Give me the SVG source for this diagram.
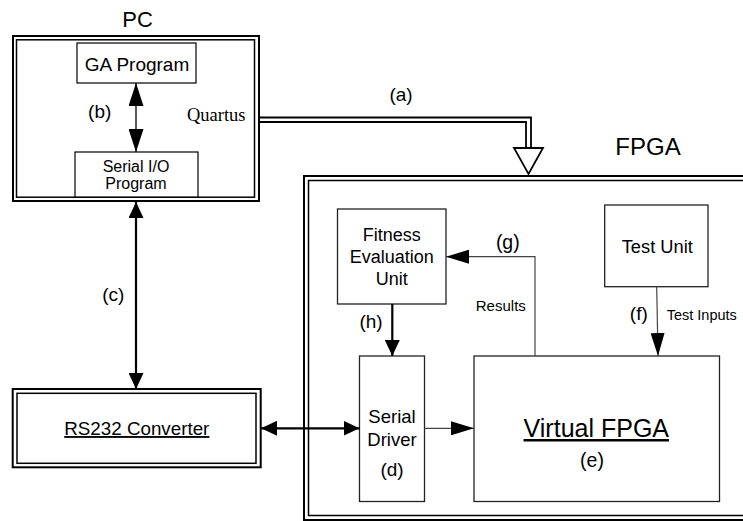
<svg xmlns="http://www.w3.org/2000/svg" width="743" height="521" viewBox="0 0 743 521">
  <style>
    text { font-family: "Liberation Sans", Arial, sans-serif; fill: #000; text-anchor: middle; }
    .serif { font-family: "Liberation Serif", "Times New Roman", serif; }
    .outer { fill: none; stroke: #000; stroke-width: 2; }
    .inner { fill: none; stroke: #000; stroke-width: 1.5; }
    .box { fill: #fff; stroke: #000; stroke-width: 1.2; }
    .unit { fill: #fff; stroke: #222; stroke-width: 1.3; }
    .thick { fill: none; stroke: #000; stroke-width: 2.2; }
    .thin { fill: none; stroke: #444; stroke-width: 1.2; }
    .bus { fill: none; stroke: #000; stroke-width: 1.8; }
    .ul { text-decoration: underline; }
  </style>
  <defs>
    <marker id="headThick" markerUnits="userSpaceOnUse" markerWidth="16" markerHeight="15" refX="16" refY="7.5" orient="auto-start-reverse">
      <path d="M0,0 L16,7.5 L0,15 z" fill="#000"/>
    </marker>
    <marker id="headBig" markerUnits="userSpaceOnUse" markerWidth="23" markerHeight="15" refX="23" refY="7.5" orient="auto-start-reverse">
      <path d="M0,0 L23,7.5 L0,15 z" fill="#000"/>
    </marker>
    <marker id="headThin" markerUnits="userSpaceOnUse" markerWidth="23" markerHeight="14" refX="23" refY="7" orient="auto-start-reverse">
      <path d="M0,0 L23,7 L0,14 z" fill="#000"/>
    </marker>
  </defs>

  <rect width="743" height="521" fill="#fff"/>

  <!-- PC container -->
  <g id="pc">
    <text x="137.5" y="27" font-size="22">PC</text>
    <rect class="outer" x="13" y="36" width="246" height="165"/>
    <rect class="inner" x="16.5" y="39.8" width="238" height="157.4"/>
    <text class="serif" x="187" y="121" font-size="18.5" style="text-anchor:start">Quartus</text>
  </g>

  <g id="ga-program">
    <rect class="box" x="77" y="43" width="119" height="40"/>
    <text x="137" y="70.5" font-size="19">GA Program</text>
  </g>

  <g id="serial-io">
    <rect class="box" x="75" y="152" width="123" height="45"/>
    <text x="136" y="171.5" font-size="16">Serial I/O</text>
    <text x="136" y="189" font-size="16">Program</text>
  </g>

  <!-- FPGA container (runs off the right and bottom edges) -->
  <g id="fpga">
    <text x="648" y="155" font-size="24">FPGA</text>
    <rect class="outer" x="304" y="176" width="460" height="344"/>
    <rect class="inner" x="308.5" y="180.5" width="460" height="335"/>
  </g>

  <g id="fitness-unit">
    <rect class="unit" x="337.5" y="209" width="108.5" height="95"/>
    <text x="391.7" y="241" font-size="18">Fitness</text>
    <text x="391.7" y="263.3" font-size="18">Evaluation</text>
    <text x="391.7" y="285" font-size="18">Unit</text>
  </g>

  <g id="test-unit">
    <rect class="unit" x="604.7" y="205" width="103.3" height="81.7"/>
    <text x="657.3" y="253" font-size="18.3">Test Unit</text>
  </g>

  <g id="serial-driver">
    <rect class="unit" x="359.5" y="356" width="65" height="145.5"/>
    <text x="392" y="423" font-size="18.5">Serial</text>
    <text x="392" y="445.5" font-size="18.5">Driver</text>
    <text x="392" y="476" font-size="19">(d)</text>
  </g>

  <g id="virtual-fpga">
    <rect class="unit" x="474" y="356" width="245.5" height="145.5"/>
    <text class="ul" x="596.3" y="437" font-size="25">Virtual FPGA</text>
    <text x="592" y="467" font-size="19.5">(e)</text>
  </g>

  <g id="rs232">
    <rect class="outer" x="12.7" y="389" width="248" height="78.3"/>
    <rect class="inner" x="17" y="393.3" width="239" height="70"/>
    <text class="ul" x="136.8" y="435" font-size="18.8">RS232 Converter</text>
  </g>

  <!-- Connectors -->
  <g id="connectors">
    <!-- (a) PC to FPGA configuration bus -->
    <polyline class="bus" points="259,117.5 531,117.5 531,148"/>
    <polyline class="bus" points="259,122 526,122 526,148"/>
    <polygon points="514,148 543,148 528.5,174" fill="#fff" stroke="#000" stroke-width="1.8" stroke-linejoin="miter"/>
    <text x="401" y="101" font-size="19">(a)</text>

    <!-- (b) GA program <-> serial I/O -->
    <line x1="136" y1="83" x2="136" y2="152" stroke="#000" stroke-width="1.3" marker-start="url(#headBig)" marker-end="url(#headBig)"/>
    <text x="99.7" y="118" font-size="19">(b)</text>

    <!-- (c) PC <-> RS232 -->
    <line class="thick" x1="136" y1="202" x2="136" y2="389" marker-start="url(#headThick)" marker-end="url(#headThick)"/>
    <text x="113.3" y="301" font-size="19">(c)</text>

    <!-- RS232 <-> serial driver -->
    <line class="thick" x1="261" y1="428.3" x2="359.5" y2="428.3" marker-start="url(#headThick)" marker-end="url(#headThick)"/>

    <!-- (h) fitness -> serial driver -->
    <line class="thick" x1="392.3" y1="304" x2="392.3" y2="356" marker-end="url(#headThick)"/>
    <text x="371" y="328" font-size="19">(h)</text>

    <!-- serial driver -> virtual FPGA -->
    <line class="thin" x1="424.5" y1="428.3" x2="474" y2="428.3" marker-end="url(#headThin)"/>

    <!-- (g) results back to fitness unit -->
    <polyline class="thin" points="535,356 535,256.7 446,256.7" marker-end="url(#headThin)"/>
    <text x="507.8" y="249" font-size="19.5">(g)</text>
    <text x="500.8" y="310.5" font-size="15">Results</text>

    <!-- (f) test inputs -->
    <line class="thin" x1="656.7" y1="286.7" x2="658" y2="356" marker-end="url(#headThin)"/>
    <text x="638.8" y="320" font-size="19">(f)</text>
    <text x="666.7" y="320" font-size="14.5" style="text-anchor:start">Test Inputs</text>
  </g>
</svg>
